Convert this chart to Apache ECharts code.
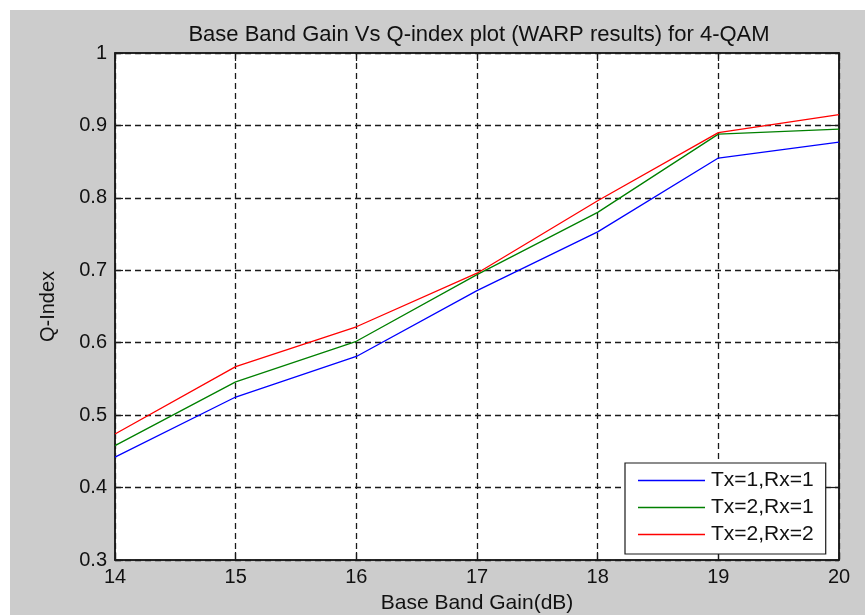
<!DOCTYPE html>
<html>
<head>
<meta charset="utf-8">
<script src="https://cdn.jsdelivr.net/npm/echarts@6/dist/echarts.min.js"></script>
<style>
html,body{margin:0;padding:0;background:#fff;}
#wrap{position:relative;width:865px;height:615px;}
#bg{position:absolute;left:10px;top:10px;right:0;bottom:0;background:#cccccc;}
#chart{position:absolute;left:0;top:0;width:865px;height:615px;}
</style>
</head>
<body>
<div id="wrap"><div id="bg"></div><div id="chart"></div></div>
<script>
const gains = [14, 15, 16, 17, 18, 19, 20];
const tx1rx1 = [0.442, 0.525, 0.581, 0.672, 0.753, 0.855, 0.877];
const tx2rx1 = [0.458, 0.546, 0.602, 0.694, 0.780, 0.888, 0.895];
const tx2rx2 = [0.474, 0.567, 0.622, 0.696, 0.796, 0.890, 0.915];
const seriesNames = ['Tx=1,Rx=1', 'Tx=2,Rx=1', 'Tx=2,Rx=2'];
const seriesColors = ['#0000ff', '#008000', '#ff0000'];
const titleText = 'Base Band Gain Vs Q-index plot (WARP results) for 4-QAM';
const xName = 'Base Band Gain(dB)';
const yName = 'Q-Index';

const FONT = '"Liberation Sans", Arial, sans-serif';
const pairs = a => gains.map((g, i) => [g, a[i]]);
const allData = [tx1rx1, tx2rx1, tx2rx2];

const axisLine = {show: true, lineStyle: {color: '#1a1a1a', width: 1.5}};
const tick = {show: true, inside: true, length: 8, lineStyle: {color: '#1a1a1a', width: 1.2}};
const split = {show: true, lineStyle: {color: '#1a1a1a', width: 1.3, type: [6, 4]}};

const chart = echarts.init(document.getElementById('chart'), null, {renderer: 'canvas'});
chart.setOption({
  animation: false,
  title: {
    text: titleText, left: 474, top: 19, textAlign: 'center',
    textStyle: {fontFamily: FONT, fontSize: 22, fontWeight: 'normal', color: '#111'}
  },
  grid: {left: 115, top: 53, right: 26, bottom: 55, outerBoundsMode: 'none', containLabel: false,
    show: true, backgroundColor: '#fff', borderColor: '#1a1a1a', borderWidth: 1.5},
  legend: {
    data: seriesNames, orient: 'vertical', left: 625, top: 463,
    icon: 'rect', itemWidth: 67, itemHeight: 1.5, itemGap: 6,
    padding: [7, 12, 9, 13],
    backgroundColor: '#fff', borderColor: '#1a1a1a', borderWidth: 1.2, borderRadius: 0,
    textStyle: {fontFamily: FONT, fontSize: 21, color: '#111', padding: [0, 0, 0, 1]}
  },
  xAxis: [{
    type: 'value', min: 14, max: 20, interval: 1, position: 'bottom',
    axisLine, axisTick: tick, splitLine: split,
    axisLabel: {fontFamily: FONT, fontSize: 20, color: '#111', margin: 7},
    name: xName, nameLocation: 'middle', nameGap: 33,
    nameTextStyle: {fontFamily: FONT, fontSize: 21, color: '#111'}
  }, {
    type: 'value', min: 14, max: 20, interval: 1, position: 'top',
    axisLine, axisTick: tick, splitLine: {show: false}, axisLabel: {show: false}
  }],
  yAxis: [{
    type: 'value', min: 0.3, max: 1, interval: 0.1, position: 'left',
    axisLine, axisTick: tick, splitLine: split,
    axisLabel: {fontFamily: FONT, fontSize: 20, color: '#111', margin: 8},
    name: yName, nameLocation: 'middle', nameGap: 57,
    nameTextStyle: {fontFamily: FONT, fontSize: 20, color: '#111'}
  }, {
    type: 'value', min: 0.3, max: 1, interval: 0.1, position: 'right',
    axisLine, axisTick: tick, splitLine: {show: false}, axisLabel: {show: false}
  }],
  series: seriesNames.map((n, i) => ({
    name: n, type: 'line', data: pairs(allData[i]),
    symbol: 'none', color: seriesColors[i],
    lineStyle: {width: 1.3, color: seriesColors[i]}
  }))
});
</script>
</body>
</html>
